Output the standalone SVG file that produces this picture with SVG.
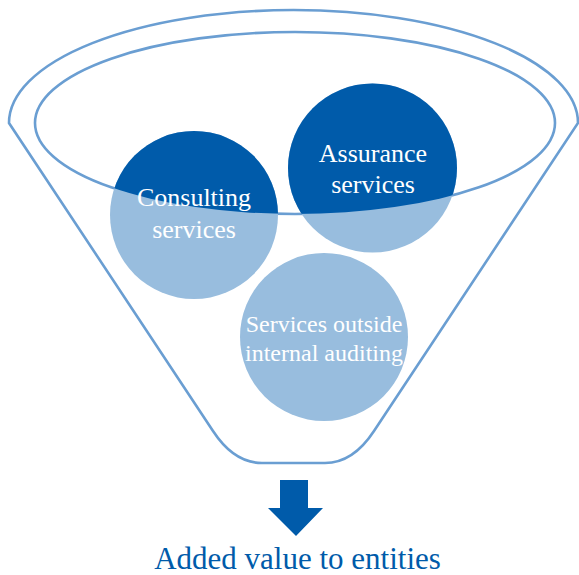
<svg xmlns="http://www.w3.org/2000/svg" width="579" height="575" viewBox="0 0 579 575">
<style>
.outline{fill:none;stroke:#6A9ED2;stroke-width:2.6}
.light{fill:#98BDDE}
.dark{fill:#005BAA}
.lbl{font-family:'Liberation Serif','Times New Roman',serif;fill:#FFFFFF;text-anchor:middle}
.big{font-size:26px}
.small{font-size:24px}
.result{font-family:'Liberation Serif','Times New Roman',serif;fill:#005BAA;font-size:31px;text-anchor:middle}
</style>
<defs>
<clipPath id="inner">
<ellipse cx="295" cy="123" rx="260" ry="91"/>
</clipPath>
</defs>
<g id="funnel">
<path class="outline" d="M9,123 A284.5,113 0 0 1 578,123 L374,431 Q353,463 325,463 L262,463 Q234,463 213,431 Z"/>
<ellipse class="outline" cx="295" cy="123" rx="260" ry="91"/>
</g>
<g id="consulting">
<circle class="light" cx="194" cy="215" r="84"/>
<circle class="dark" cx="194" cy="215" r="84" clip-path="url(#inner)"/>
<text class="lbl big" x="194" y="206">Consulting</text>
<text class="lbl big" x="194" y="238">services</text>
</g>
<g id="assurance">
<circle class="light" cx="372.5" cy="168" r="84.5"/>
<circle class="dark" cx="372.5" cy="168" r="84.5" clip-path="url(#inner)"/>
<text class="lbl big" x="373" y="162">Assurance</text>
<text class="lbl big" x="373" y="193">services</text>
</g>
<g id="outside">
<circle class="light" cx="324" cy="337" r="84"/>
<text class="lbl small" x="324" y="332">Services outside</text>
<text class="lbl small" x="324" y="361">internal auditing</text>
</g>
<g id="connectors">
<path class="dark" d="M280,480 L308,480 L308,508 L323,508 L296,536 L268,508 L280,508 Z"/>
</g>
<g id="result">
<text class="result" x="297.5" y="569">Added value to entities</text>
</g>
</svg>
